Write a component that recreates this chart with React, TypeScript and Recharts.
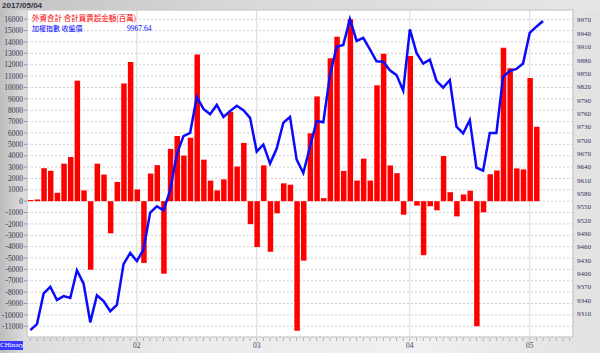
import React from "react";
import {
  ComposedChart,
  Bar,
  Line,
  XAxis,
  YAxis,
  CartesianGrid,
  ReferenceArea,
  Legend,
} from "recharts";

// Foreign investors net buy/sell (million NTD), one value per trading day
const foreignNet: (number | null)[] = [
  100, 150, 2900, 2670, 740, 3300, 3880, 10600, 950, -6030,
  3300, 2340, -2830, 1690, 10350, 12230, 1030, -5430, 2430, 3170,
  -6380, 4600, 5730, 4010, 5580, 12910, 3650, 1810, 950, 1920,
  7860, 3050, 5120, -2020, -4040, 3150, -4450, -1070, 1570, 1450,
  -11400, -5230, 5970, 9210, 270, 12580, 14450, 2660, 16000, 1810,
  3740, 1810, 10190, 12970, 3140, 2460, -1190, 12760, -390, -4750,
  -450, -800, 3970, 790, -1340, 590, 920, -11000, -980, 2370,
  2700, 13500, 11680, 2880, 2790, 10830, 6540, null,
];

// TAIEX close
const taiexClose: (number | null)[] = [
  9272.5, 9286, 9355, 9370, 9340, 9349, 9345, 9407, 9377, 9290,
  9351, 9338, 9315, 9329, 9421, 9446, 9428, 9454, 9537, 9551,
  9542, 9587, 9668, 9709, 9716, 9797, 9770, 9758, 9779, 9752,
  9765, 9777, 9767, 9750, 9674, 9690, 9647, 9681, 9739, 9752,
  9656, 9626, 9685, 9743, 9740, 9846, 9910, 9914, 9972, 9923,
  9930, 9904, 9877, 9876, 9857, 9846, 9811, 9949, 9896, 9872,
  9881, 9833, 9818, 9835, 9730, 9715, 9745, 9638, 9631, 9716,
  9716, 9842, 9855, 9860, 9872, 9941, 9955, 9967.64,
];

// empty trailing slots on the time axis
const emptySlots = 4;

const monthLabels = ["02", "03", "04", "05"];
const monthStartIndex = [16, 34, 57, 75];

const leftTicks = [
  -11000, -10000, -9000, -8000, -7000, -6000, -5000, -4000, -3000, -2000,
  -1000, 0, 1000, 2000, 3000, 4000, 5000, 6000, 7000, 8000, 9000, 10000,
  11000, 12000, 13000, 14000, 15000, 16000,
];
const rightTicks = [
  9310, 9340, 9370, 9400, 9430, 9460, 9490, 9520, 9550, 9580, 9610, 9640,
  9670, 9700, 9730, 9760, 9790, 9820, 9850, 9880, 9910, 9940, 9970,
];

const seriesNames = ["外資合計 合計買賣超金額(百萬)", "加權指數 收盤價"];
const lastValueLabel = "9967.64";
const dateLabel = "2017/05/04";

const data = [] as { i: number; foreign: number | null; taiex: number | null }[];
for (let k = 0; k < taiexClose.length + emptySlots; k++) {
  data.push({
    i: k,
    foreign: k < foreignNet.length ? foreignNet[k] : null,
    taiex: k < taiexClose.length ? taiexClose[k] : null,
  });
}

const tickFont = "'Liberation Serif', 'DejaVu Serif', serif";

const XTick = (props: any) => {
  const { x, y, payload } = props;
  const mi = monthStartIndex.indexOf(payload.value);
  return (
    <g>
      <line x1={x} x2={x} y1={y + 1} y2={y + 4} stroke="#b0b0b0" strokeWidth={1} />
      {mi >= 0 && (
        <text
          x={x}
          y={y + 8}
          textAnchor="middle"
          dominantBaseline="central"
          fontSize={7.5}
          fontFamily={tickFont}
          fill="#444466"
        >
          {monthLabels[mi]}
        </text>
      )}
    </g>
  );
};

const LegendContent = () => (
  <div style={{ fontFamily: "'Noto Sans CJK TC', sans-serif", fontSize: 7, lineHeight: "11px", whiteSpace: "nowrap" }}>
    <div style={{ color: "#ff0000", fontSize: 7.5 }}>{seriesNames[0]}</div>
    <div style={{ color: "#0000ff", position: "relative" }}>
      {seriesNames[1]}
      <span style={{ position: "absolute", left: 95, top: 0, fontFamily: tickFont, fontSize: 7.5 }}>
        {lastValueLabel}
      </span>
    </div>
  </div>
);

export default function App() {
  return (
    <div
      style={{
        position: "absolute",
        left: 0,
        top: 0,
        width: 600,
        height: 353,
        background:
          "linear-gradient(to right, #bdbdbd 0%, #dcdcdc 4%, #ebebeb 30%, #f0f0f0 70%, #e2e2e2 100%)",
      }}
    >
      <div
        style={{
          position: "absolute",
          left: 0,
          top: 0,
          width: 600,
          height: 10,
          background: "linear-gradient(to right, #c2c2c2, #d8d8d8 40%, #e6e6e6)",
        }}
      />
      <div
        style={{
          position: "absolute",
          left: 2,
          top: 0,
          fontFamily: "'Liberation Sans', Arial, sans-serif",
          fontWeight: "bold",
          fontSize: 8,
          lineHeight: "11px",
          color: "#333344",
        }}
      >
        {dateLabel}
      </div>
      <ComposedChart
        width={600}
        height={353}
        data={data}
        margin={{ top: 10, right: 0, bottom: 0, left: 0 }}
        style={{ position: "absolute", left: 0, top: 0 }}
      >
        <CartesianGrid
          yAxisId="left"
          vertical={false}
          stroke="#cfcfcf"
          strokeDasharray="2 2"
          fill="#ffffff"
          fillOpacity={1}
        />
        <CartesianGrid
          xAxisId="months"
          yAxisId="left"
          horizontal={false}
          stroke="#dadada"
        />
        <XAxis
          dataKey="i"
          type="category"
          interval={0}
          tick={<XTick />}
          tickSize={0}
          tickMargin={0}
          tickLine={false}
          axisLine={false}
          height={16}
        />
        <XAxis
          xAxisId="months"
          dataKey="i"
          type="category"
          ticks={monthStartIndex}
          interval={0}
          hide
        />
        <YAxis
          yAxisId="left"
          domain={[-11945, 16813]}
          ticks={leftTicks}
          interval={0}
          allowDataOverflow
          width={27}
          tickSize={3}
          tickMargin={1}
          axisLine={false}
          tickLine={{ stroke: "#999999" }}
          tick={{ fontSize: 7.5, fontFamily: tickFont, fill: "#333355" }}
        />
        <YAxis
          yAxisId="right"
          orientation="right"
          domain={[9257, 9992.5]}
          ticks={rightTicks}
          interval={0}
          allowDataOverflow
          width={27}
          tickSize={0}
          tickMargin={4}
          axisLine={false}
          tickLine={false}
          tick={{ fontSize: 7, fontFamily: tickFont, fill: "#333366" }}
        />
        <ReferenceArea
          yAxisId="left"
          x1={0}
          x2={data.length - 1}
          y1={-11945}
          y2={16813}
          fill="none"
          fillOpacity={0}
          stroke="#c8c8c8"
          ifOverflow="visible"
        />
        <Bar
          yAxisId="left"
          dataKey="foreign"
          fill="#ff0000"
          barSize={5.5}
          isAnimationActive={false}
        />
        <Line
          yAxisId="right"
          dataKey="taiex"
          stroke="#0a0aff"
          strokeWidth={2.5}
          dot={false}
          activeDot={false}
          isAnimationActive={false}
        />
        <Legend
          layout="vertical"
          align="center"
          verticalAlign="middle"
          content={<LegendContent />}
          wrapperStyle={{ position: "absolute", left: 32, top: 12, width: 200, height: 24 }}
        />
      </ComposedChart>
      <div
        style={{
          position: "absolute",
          left: 0,
          top: 341,
          width: 23,
          height: 9,
          background: "#3a3aff",
          color: "#ffffff",
          fontFamily: "'Liberation Serif', serif",
          fontSize: 7,
          lineHeight: "9px",
          textAlign: "center",
        }}
      >
        CHinary
      </div>
    </div>
  );
}
